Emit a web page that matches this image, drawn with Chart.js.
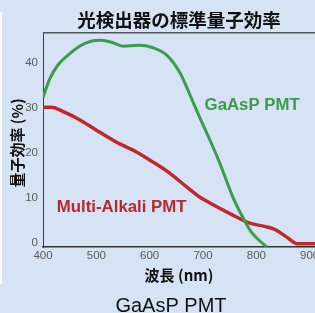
<!DOCTYPE html>
<html><head><meta charset="utf-8">
<script src="https://cdn.jsdelivr.net/npm/chart.js@4"></script>
<style>
html,body{margin:0;padding:0;background:#d5e3f5;overflow:hidden}
#wrap{position:relative;width:315px;height:313px}
#strip{position:absolute;left:0;top:12px;width:2px;height:272px;background:#ffffff}
canvas{position:absolute;left:0;top:0}
</style></head><body>
<div id="wrap"><div id="strip"></div><canvas id="c" width="315" height="313"></canvas></div>
<script>
const titleText = '光検出器の標準量子効率';
const xTitle = '波長 (nm)';
const yTitle = '量子効率 (%)';
const caption = 'GaAsP PMT';
const seriesNames = ['GaAsP PMT', 'Multi-Alkali PMT'];
const xTicks = [400, 500, 600, 700, 800, 900];
const yTicks = [0, 10, 20, 30, 40];
const gaaspWavelength = [400, 413, 428, 445, 470, 490, 510, 530, 550, 580, 605, 632, 657, 679, 694, 713, 731, 756, 775, 790, 805, 820];
const gaaspQE = [33.3, 37.5, 40.5, 42.5, 44.8, 45.8, 46.0, 45.5, 44.7, 44.9, 44.4, 42.7, 38.7, 32.9, 28.8, 23.8, 18.8, 11.1, 6.5, 3.4, 1.5, 0];
const alkaliWavelength = [400, 416, 440, 466, 500, 538, 576, 605, 638, 670, 695, 713, 756, 788, 815, 835, 857, 878, 910];
const alkaliQE = [31.1, 31.1, 30.0, 28.5, 26.0, 23.3, 21.1, 19.0, 16.4, 13.3, 11.0, 9.8, 7.1, 5.3, 4.6, 3.9, 2.2, 0.7, 0.7];

const GREEN = '#3b9c4b', RED = '#c1282e';
const pts = (xs, ys) => xs.map((x, i) => ({x: x, y: ys[i]}));
const CJK = '"Noto Sans CJK JP", "Liberation Sans", sans-serif';
const NARROW = '"Liberation Sans Narrow", "Liberation Sans", sans-serif';

const extras = {
  id: 'extras',
  beforeDatasetsDraw(chart) {
    const {ctx, chartArea: a} = chart;
    ctx.save();
    ctx.strokeStyle = '#50555c';
    ctx.lineWidth = 1.5;
    ctx.beginPath();
    ctx.moveTo(a.left, a.top + 0.5);
    ctx.lineTo(a.right, a.top + 0.5);
    ctx.stroke();
    ctx.restore();
  },
  afterDraw(chart, args, opts) {
    const {ctx, scales: {x, y}} = chart;
    ctx.save();
    ctx.textBaseline = 'alphabetic';
    ctx.textAlign = 'left';
    ctx.font = 'bold 16.8px "Liberation Sans", Arial, sans-serif';
    opts.labels.forEach(l => {
      ctx.fillStyle = l.color;
      ctx.fillText(l.text, x.getPixelForValue(l.x), y.getPixelForValue(l.y));
    });
    ctx.font = '20px "Liberation Sans", Arial, sans-serif';
    ctx.fillStyle = '#111';
    ctx.textAlign = 'center';
    ctx.fillText(caption, 171, 312);
    ctx.restore();
  }
};

new Chart(document.getElementById('c'), {
  type: 'line',
  data: {
    datasets: [
      {label: seriesNames[0], data: pts(gaaspWavelength, gaaspQE), borderColor: GREEN, borderWidth: 3, pointRadius: 0, tension: 0.4, cubicInterpolationMode: 'monotone', fill: false},
      {label: seriesNames[1], data: pts(alkaliWavelength, alkaliQE), borderColor: RED, borderWidth: 3.5, pointRadius: 0, tension: 0.4, cubicInterpolationMode: 'monotone', fill: false}
    ]
  },
  options: {
    responsive: false,
    animation: false,
    devicePixelRatio: 1,
    layout: {padding: 0},
    plugins: {
      legend: {display: false},
      tooltip: {enabled: false},
      title: {display: true, text: titleText, color: '#111', fullSize: false, font: {family: CJK, size: 18.5, weight: 'bold'}, padding: {top: 9, bottom: 1}},
      extras: {labels: [
        {text: seriesNames[0], color: GREEN, x: 703, y: 30.4},
        {text: seriesNames[1], color: '#bd262d', x: 426, y: 7.8}
      ]}
    },
    scales: {
      x: {
        type: 'linear', min: 400, max: 910,
        afterBuildTicks: s => { s.ticks = xTicks.map(v => ({value: v})); },
        afterFit: s => { s.height = 66; s.paddingLeft = 0; s.paddingRight = 0; },
        ticks: {color: '#5a5a5a', font: {family: NARROW, size: 11.5}, padding: 2, autoSkip: false, maxRotation: 0},
        grid: {display: false, drawTicks: false},
        border: {display: true, color: '#333', width: 1.5},
        title: {display: true, text: xTitle, color: '#111', font: {family: CJK, size: 15, weight: 'bold'}, padding: {top: 0, bottom: 29}}
      },
      y: {
        type: 'linear', min: 0, max: 47.8,
        afterBuildTicks: s => { s.ticks = yTicks.map(v => ({value: v})); },
        afterFit: s => { s.width = 43; s.paddingTop = 0; s.paddingBottom = 0; },
        ticks: {color: '#5a5a5a', font: {family: NARROW, size: 11.5}, padding: 5, labelOffset: -4},
        grid: {display: false, drawTicks: false},
        border: {display: true, color: '#3a3f47', width: 1},
        title: {display: true, text: yTitle + '  ', color: '#111', font: {family: CJK, size: 15, weight: 'bold'}, padding: {top: 8.5, bottom: 0}}
      }
    }
  },
  plugins: [extras]
});
</script>
</body></html>
